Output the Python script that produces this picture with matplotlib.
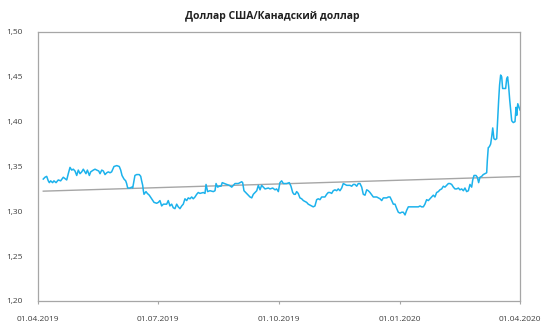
import datetime as dt
import numpy as np
import matplotlib
matplotlib.use('Agg')
import matplotlib.pyplot as plt
import matplotlib.dates as mdates

plt.rcParams['font.family'] = ['Open Sans', 'DejaVu Sans']

# USD/CAD, days counted from 01.04.2019
days = [4.0, 5.3, 6.6, 7.8, 8.6, 9.6, 11.1, 12.1, 13.7, 15.4, 17.2, 19.2, 21.0, 21.8, 23.0, 24.3,
        25.6, 26.8, 28.1, 29.4, 30.6, 31.9, 33.2, 34.4, 36.4, 37.5, 39.0, 40.0, 42.0, 43.3, 44.6,
        46.1, 47.1, 48.4, 49.6, 50.9, 52.2, 53.4, 54.7, 55.9, 57.7, 59.8, 61.7, 62.8, 63.8, 65.3,
        66.6, 67.3, 68.1, 69.9, 71.1, 71.9, 72.9, 73.6, 74.9, 76.9, 78.0, 78.7, 79.5, 80.0, 80.5,
        82.0, 83.0, 84.5, 86.3, 88.1, 90.1, 91.4, 92.6, 93.9, 95.2, 96.4, 97.7, 98.9, 100.2, 101.5,
        102.7, 104.0, 105.3, 106.5, 107.8, 109.1, 110.3, 111.6, 112.9, 114.1, 115.4, 116.7, 117.9,
        119.2, 120.5, 121.7, 123.0, 125.5, 126.8, 127.6, 128.8, 130.6, 133.1, 134.4, 135.2, 136.4,
        137.7, 139.0, 139.9, 141.5, 143.3, 145.3, 147.1, 148.3, 149.6, 150.9, 152.1, 153.4, 154.7,
        155.4, 156.4, 157.7, 158.9, 161.0, 162.3, 163.5, 164.8, 166.1, 167.3, 168.6, 169.8, 171.1,
        172.4, 174.9, 176.2, 178.2, 180.0, 181.2, 182.5, 183.7, 185.0, 186.3, 188.8, 190.8, 192.1,
        193.4, 194.4, 195.4, 196.4, 197.6, 198.9, 200.2, 201.5, 202.7, 204.0, 205.2, 206.5, 207.8,
        209.0, 210.3, 211.6, 212.8, 214.1, 215.4, 216.6, 217.9, 219.2, 220.4, 221.7, 223.0, 224.2,
        225.5, 226.8, 228.0, 229.3, 230.6, 231.8, 233.1, 234.4, 235.6, 236.9, 238.2, 239.4, 240.7,
        242.0, 243.2, 244.5, 245.8, 247.0, 248.3, 249.6, 250.8, 252.1, 254.6, 257.2, 259.7, 261.0,
        262.2, 264.8, 266.0, 267.3, 268.6, 269.8, 271.1, 272.4, 273.6, 274.9, 276.2, 277.4, 278.7,
        279.9, 281.2, 282.5, 285.0, 286.3, 287.5, 288.8, 290.1, 291.3, 292.6, 293.8, 295.1, 296.4,
        297.6, 298.9, 300.2, 301.4, 302.7, 304.0, 305.2, 306.5, 307.8, 309.0, 310.3, 311.6, 312.8,
        314.1, 315.4, 316.6, 317.9, 319.2, 320.4, 321.7, 323.0, 324.2, 325.5, 326.8, 328.0, 329.3,
        330.1, 331.1, 332.6, 333.6, 334.6, 335.6, 336.9, 338.1, 339.4, 340.7, 341.2, 341.9, 342.7,
        343.7, 344.5, 345.3, 346.2, 347.2, 348.3, 349.0, 349.8, 350.5, 351.3, 352.1, 352.8, 354.1,
        355.1, 355.9, 356.6, 357.4, 358.2, 358.9, 359.7, 360.9, 362.2, 363.0, 363.5, 364.3, 365.3,
        366.0]
rate = [1.336, 1.338, 1.339, 1.334, 1.332, 1.334, 1.332, 1.334, 1.332, 1.335, 1.334, 1.338, 1.336,
        1.335, 1.342, 1.349, 1.346, 1.347, 1.345, 1.340, 1.346, 1.342, 1.344, 1.347, 1.342, 1.346,
        1.340, 1.344, 1.346, 1.347, 1.346, 1.345, 1.342, 1.346, 1.345, 1.341, 1.343, 1.344, 1.343,
        1.344, 1.350, 1.351, 1.350, 1.346, 1.340, 1.336, 1.334, 1.331, 1.326, 1.326, 1.327, 1.326,
        1.334, 1.340, 1.341, 1.341, 1.339, 1.334, 1.329, 1.323, 1.319, 1.322, 1.320, 1.318, 1.314,
        1.310, 1.309, 1.310, 1.312, 1.306, 1.308, 1.308, 1.308, 1.312, 1.306, 1.308, 1.304, 1.303,
        1.308, 1.305, 1.303, 1.306, 1.308, 1.314, 1.312, 1.315, 1.314, 1.316, 1.314, 1.316, 1.319,
        1.321, 1.320, 1.321, 1.320, 1.330, 1.322, 1.323, 1.322, 1.323, 1.331, 1.327, 1.328, 1.328,
        1.332, 1.331, 1.330, 1.329, 1.327, 1.329, 1.331, 1.331, 1.331, 1.332, 1.333, 1.332, 1.323,
        1.321, 1.319, 1.316, 1.315, 1.319, 1.321, 1.323, 1.329, 1.324, 1.329, 1.327, 1.325, 1.326,
        1.325, 1.326, 1.324, 1.325, 1.322, 1.332, 1.334, 1.331, 1.331, 1.332, 1.328, 1.321, 1.319,
        1.319, 1.322, 1.320, 1.315, 1.314, 1.312, 1.311, 1.310, 1.308, 1.307, 1.306, 1.305, 1.306,
        1.313, 1.314, 1.313, 1.316, 1.316, 1.316, 1.319, 1.321, 1.321, 1.320, 1.323, 1.324, 1.323,
        1.325, 1.323, 1.326, 1.331, 1.330, 1.329, 1.329, 1.329, 1.328, 1.330, 1.330, 1.328, 1.331,
        1.331, 1.327, 1.319, 1.318, 1.324, 1.323, 1.321, 1.316, 1.316, 1.314, 1.312, 1.315, 1.315,
        1.316, 1.316, 1.312, 1.308, 1.308, 1.303, 1.299, 1.298, 1.299, 1.299, 1.296, 1.301, 1.305,
        1.305, 1.305, 1.305, 1.305, 1.305, 1.306, 1.305, 1.305, 1.308, 1.313, 1.312, 1.314, 1.316,
        1.318, 1.316, 1.321, 1.322, 1.324, 1.325, 1.328, 1.327, 1.329, 1.331, 1.331, 1.330, 1.327,
        1.325, 1.325, 1.326, 1.324, 1.325, 1.323, 1.326, 1.322, 1.323, 1.330, 1.327, 1.335, 1.340,
        1.340, 1.338, 1.332, 1.338, 1.339, 1.341, 1.342, 1.343, 1.357, 1.371, 1.372, 1.375, 1.383,
        1.393, 1.381, 1.380, 1.381, 1.401, 1.424, 1.441, 1.452, 1.450, 1.437, 1.437, 1.437, 1.448,
        1.450, 1.439, 1.424, 1.413, 1.401, 1.399, 1.400, 1.416, 1.407, 1.420, 1.416, 1.413]

# linear trend: values at the first and last day of the series
trend_ends = [1.3225, 1.3388]

tick_dates = ['01.04.2019', '01.07.2019', '01.10.2019', '01.01.2020', '01.04.2020']
y_ticks = [1.20, 1.25, 1.30, 1.35, 1.40, 1.45, 1.50]
title = 'Доллар США/Канадский доллар'

start = mdates.date2num(dt.datetime(2019, 4, 1))
x = start + np.array(days)
y = np.array(rate)

fig = plt.figure(figsize=(5.44, 3.25), dpi=100)
ax = fig.add_axes([38 / 544, 1 - 301 / 325, 482 / 544, 269 / 325])

ax.plot([x[0], x[-1]], trend_ends, color='#a6a6a6', lw=1.0)
ax.plot(x, y, color='#1cb2ec', lw=1.1)

tick_x = [mdates.date2num(dt.datetime.strptime(s, '%d.%m.%Y')) for s in tick_dates]
ax.set_xlim(tick_x[0], tick_x[-1])
ax.set_xticks(tick_x)
ax.set_xticklabels(tick_dates)
ax.set_ylim(y_ticks[0], y_ticks[-1])
ax.set_yticks(y_ticks)
ax.set_yticklabels([f'{v:.2f}'.replace('.', ',') for v in y_ticks])

for s in ax.spines.values():
    s.set_color('#a6a6a6')
    s.set_linewidth(0.9)
ax.tick_params(axis='x', length=2, color='#a6a6a6', pad=9, labelsize=6, labelcolor='#404040')
ax.tick_params(axis='y', length=0, pad=11, labelsize=6, labelcolor='#404040')

fig.text(0.5, 1 - 17 / 325, title, ha='center', va='center', fontsize=7.5, fontweight='bold',
         color='#202020')

fig.savefig('out.png', dpi=100)
